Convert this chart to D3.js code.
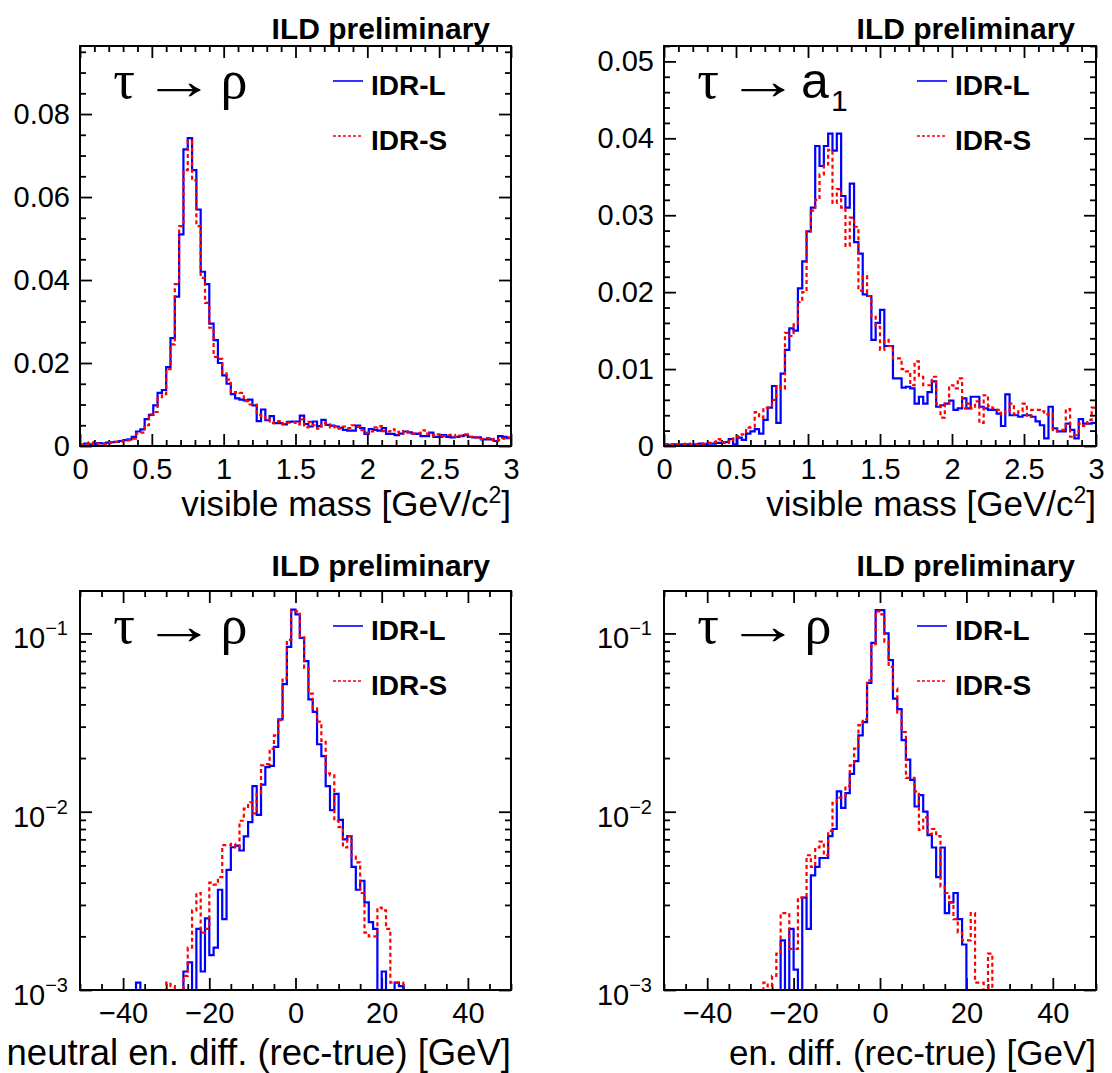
<!DOCTYPE html>
<html>
<head>
<meta charset="utf-8">
<script src="https://cdn.jsdelivr.net/npm/d3@7"></script>
<style>
  body { margin: 0; background: #fff; }
  svg { display: block; }
</style>
</head>
<body>
<svg id="chart" width="1112" height="1073"></svg>
<script>
'use strict';

// ---- data: normalised histograms, 100 bins each ----
// visible mass, tau -> rho, 0..3 GeV/c2
const massRhoL = [
  0.0003,0.0006,0.0004,0.0005,0.0007,0.0006,0.0008,0.0009,0.0010,0.0012,
  0.0014,0.0016,0.0022,0.0035,0.0040,0.0065,0.0075,0.0098,0.0128,0.0135,
  0.0190,0.0260,0.0360,0.0510,0.0715,0.0742,0.0665,0.0570,0.0420,0.0390,
  0.0295,0.0255,0.0200,0.0170,0.0150,0.0125,0.0115,0.0112,0.0110,0.0112,
  0.0098,0.0060,0.0088,0.0062,0.0072,0.0055,0.0055,0.0052,0.0058,0.0059,
  0.0059,0.0073,0.0053,0.0047,0.0059,0.0048,0.0063,0.0051,0.0049,0.0047,
  0.0044,0.0039,0.0037,0.0037,0.0049,0.0043,0.0029,0.0041,0.0039,0.0037,
  0.0043,0.0029,0.0029,0.0026,0.0030,0.0035,0.0033,0.0030,0.0029,0.0024,
  0.0024,0.0032,0.0022,0.0022,0.0026,0.0022,0.0021,0.0022,0.0024,0.0026,
  0.0022,0.0021,0.0021,0.0016,0.0016,0.0016,0.0012,0.0024,0.0022,0.0019];
const massRhoS = [
  0.0004,0.0005,0.0009,0.0004,0.0006,0.0005,0.0007,0.0008,0.0010,0.0011,
  0.0013,0.0014,0.0018,0.0030,0.0032,0.0050,0.0076,0.0082,0.0115,0.0125,
  0.0185,0.0245,0.0390,0.0530,0.0665,0.0735,0.0640,0.0530,0.0405,0.0345,
  0.0285,0.0215,0.0210,0.0175,0.0160,0.0128,0.0130,0.0128,0.0108,0.0100,
  0.0100,0.0075,0.0070,0.0066,0.0055,0.0058,0.0060,0.0053,0.0056,0.0057,
  0.0052,0.0064,0.0045,0.0058,0.0050,0.0042,0.0055,0.0052,0.0045,0.0048,
  0.0042,0.0047,0.0043,0.0050,0.0046,0.0038,0.0032,0.0035,0.0045,0.0048,
  0.0036,0.0035,0.0040,0.0034,0.0030,0.0036,0.0033,0.0030,0.0031,0.0038,
  0.0030,0.0027,0.0025,0.0028,0.0024,0.0026,0.0027,0.0022,0.0025,0.0028,
  0.0022,0.0020,0.0021,0.0017,0.0019,0.0015,0.0017,0.0014,0.0018,0.0021];

// visible mass, tau -> a1, 0..3 GeV/c2
const massA1L = [
  0.0002,0.0001,0.0002,0.0001,0.0002,0.0002,0.0001,0.0002,0.0003,0.0002,
  0.0003,0.0003,0.0004,0.0004,0.0005,0.0009,0.0002,0.0011,0.0008,0.0016,
  0.0019,0.0022,0.0016,0.0034,0.0050,0.0078,0.0030,0.0094,0.0125,0.0153,
  0.0150,0.0205,0.0240,0.0279,0.0310,0.0390,0.0364,0.0390,0.0406,0.0384,
  0.0406,0.0325,0.0310,0.0341,0.0265,0.0250,0.0197,0.0195,0.0138,0.0160,
  0.0177,0.0130,0.0130,0.0088,0.0088,0.0076,0.0077,0.0075,0.0055,0.0064,
  0.0055,0.0070,0.0084,0.0051,0.0053,0.0055,0.0059,0.0047,0.0049,0.0062,
  0.0049,0.0064,0.0064,0.0051,0.0049,0.0047,0.0047,0.0042,0.0026,0.0067,
  0.0040,0.0040,0.0038,0.0040,0.0040,0.0038,0.0032,0.0027,0.0010,0.0051,
  0.0023,0.0019,0.0019,0.0029,0.0021,0.0010,0.0035,0.0029,0.0029,0.0030];
const massA1S = [
  0.0001,0.0002,0.0001,0.0002,0.0002,0.0003,0.0002,0.0002,0.0003,0.0003,
  0.0004,0.0005,0.0009,0.0005,0.0004,0.0006,0.0010,0.0013,0.0015,0.0024,
  0.0025,0.0044,0.0037,0.0050,0.0050,0.0060,0.0078,0.0075,0.0147,0.0143,
  0.0158,0.0187,0.0200,0.0279,0.0306,0.0320,0.0353,0.0366,0.0385,0.0316,
  0.0334,0.0310,0.0260,0.0297,0.0285,0.0202,0.0221,0.0195,0.0168,0.0155,
  0.0125,0.0138,0.0130,0.0114,0.0114,0.0100,0.0097,0.0079,0.0110,0.0090,
  0.0079,0.0079,0.0090,0.0055,0.0037,0.0055,0.0079,0.0075,0.0088,0.0049,
  0.0055,0.0049,0.0058,0.0030,0.0066,0.0052,0.0049,0.0047,0.0041,0.0045,
  0.0055,0.0041,0.0045,0.0055,0.0038,0.0047,0.0047,0.0045,0.0041,0.0042,
  0.0019,0.0021,0.0021,0.0048,0.0012,0.0014,0.0029,0.0026,0.0034,0.0050];

// neutral energy difference (rec-true), tau -> rho, -50..50 GeV
const neutRhoL = [
  0,0,0,0,0,0,0,0,0,0,
  0,0,0,0.0011,0,0,0,0,0,0,
  0,0,0,0,0.00127,0.00143,0,0.0022,0.00127,0.00252,
  0.00157,0.00173,0.00365,0.0025,0.00472,0.00632,0.00646,0.00606,0.00727,0.00875,
  0.0139,0.0096,0.0142,0.0178,0.0181,0.0231,0.033,0.0519,0.0841,0.136,
  0.128,0.0945,0.0699,0.0427,0.0363,0.0239,0.0205,0.0139,0.0102,0.0126,
  0.0090,0.0070,0.0073,0.0049,0.00365,0.0041,0.0031,0.0024,0.0022,0,
  0.00127,0,0,0.0011,0.00105,0,0,0,0,0,
  0,0,0,0,0,0,0,0,0,0,
  0,0,0,0,0,0,0,0,0,0];
const neutRhoS = [
  0,0,0,0,0,0,0,0,0,0,
  0,0,0,0,0,0,0,0,0,0,
  0.0011,0.00105,0,0,0.0012,0.00173,0.0028,0.0035,0.0021,0.0022,
  0.0040,0.0039,0.0043,0.0065,0.0065,0.0066,0.0063,0.0089,0.0104,0.0113,
  0.0098,0.0126,0.0182,0.0185,0.0226,0.0268,0.0326,0.056,0.092,0.134,
  0.133,0.095,0.064,0.046,0.038,0.032,0.025,0.0164,0.016,0.0089,
  0.0082,0.0063,0.0073,0.0056,0.0052,0.0035,0.0021,0.0020,0.0020,0.0029,
  0.0028,0.0022,0.0011,0.0011,0.0011,0,0,0,0,0,
  0,0,0,0,0,0,0,0,0,0,
  0,0,0,0,0,0,0,0,0,0];

// total energy difference (rec-true), tau -> rho, -50..50 GeV
const enRhoL = [
  0,0,0,0,0,0,0,0,0,0,
  0,0,0,0,0,0,0,0,0,0,
  0,0,0,0,0,0,0,0.0019,0,0.0022,
  0.0013,0,0.0033,0.0022,0.0044,0.0049,0.0055,0.0055,0.0073,0.0080,
  0.0130,0.0105,0.0127,0.0163,0.0192,0.0268,0.0318,0.0528,0.0885,0.135,
  0.135,0.100,0.0708,0.0431,0.0376,0.0252,0.0196,0.0151,0.0107,0.0124,
  0.0100,0.0074,0.0063,0.0043,0.0063,0.0027,0.0031,0.0035,0.0025,0.0018,
  0,0,0,0,0,0,0,0,0,0,
  0,0,0,0,0,0,0,0,0,0,
  0,0,0,0,0,0,0,0,0,0];
const enRhoS = [
  0,0,0,0,0,0,0,0,0,0,
  0,0,0,0,0,0,0,0,0,0,
  0,0,0,0.0011,0,0.0012,0.0016,0.0027,0.0027,0.0017,
  0.0017,0.0033,0.0033,0.0057,0.0049,0.0063,0.0068,0.0057,0.0078,0.0112,
  0.0120,0.0120,0.0139,0.0182,0.0226,0.0306,0.033,0.0545,0.087,0.133,
  0.128,0.090,0.065,0.049,0.036,0.028,0.0155,0.0155,0.0130,0.0079,
  0.0093,0.0075,0.0080,0.0073,0.0038,0.0035,0.0031,0.0025,0.0021,0.0019,
  0.0019,0.0027,0.0011,0.0011,0,0.0016,0,0,0,0,
  0,0,0,0,0,0,0,0,0,0,
  0,0,0,0,0,0,0,0,0,0];

// axis ranges and tick labels
const massRange = [0, 3];
const diffRange = [-50, 50];
const massTicks = [0, 0.5, 1, 1.5, 2, 2.5, 3];
const diffTicks = [-40, -20, 0, 20, 40];
const rhoYTicks = [0, 0.02, 0.04, 0.06, 0.08];
const a1YTicks = [0, 0.01, 0.02, 0.03, 0.04, 0.05];
const logYTicks = [0.001, 0.01, 0.1];
const seriesNames = ["IDR-L", "IDR-S"];

const FONT = '"Liberation Sans", Arial, Helvetica, sans-serif';
const SYM = '"Liberation Serif", "DejaVu Serif", serif';
const svg = d3.select("#chart");

const panels = [
  {id: "a", L: massRhoL, S: massRhoS, xr: massRange, xt: massTicks, xm: 0.1,
   box: {x0: 80, x1: 511, y0: 46, y1: 446}, log: false, yd: [0, 0.0964],
   yt: rhoYTicks, ym: 0.005, decay: "rho", ild: 39, titleY: 516, titleSize: 35,
   title: ["visible mass [GeV/c", "2", "]"]},
  {id: "b", L: massA1L, S: massA1S, xr: massRange, xt: massTicks, xm: 0.1,
   box: {x0: 664, x1: 1096, y0: 46, y1: 446}, log: false, yd: [0, 0.052],
   yt: a1YTicks, ym: 0.002, decay: "a1", ild: 39, titleY: 516, titleSize: 35,
   title: ["visible mass [GeV/c", "2", "]"]},
  {id: "c", L: neutRhoL, S: neutRhoS, xr: diffRange, xt: diffTicks, xm: 5,
   box: {x0: 80, x1: 511, y0: 591, y1: 990}, log: true, yd: [0.001, 0.173],
   yt: logYTicks, decay: "rho", ild: 576, titleY: 1065, titleSize: 36.5,
   title: ["neutral en. diff. (rec-true) [GeV]"]},
  {id: "d", L: enRhoL, S: enRhoS, xr: diffRange, xt: diffTicks, xm: 5,
   box: {x0: 664, x1: 1096, y0: 591, y1: 990}, log: true, yd: [0.001, 0.173],
   yt: logYTicks, decay: "rho", ild: 576, titleY: 1065, titleSize: 35,
   title: ["en. diff. (rec-true) [GeV]"]}
];

function histPoints(vals, range) {
  const w = (range[1] - range[0]) / vals.length;
  const pts = [];
  vals.forEach((v, i) => {
    pts.push([range[0] + i * w, v], [range[0] + (i + 1) * w, v]);
  });
  return pts;
}

function fmtLin(d) { return d === 0 ? "0" : d3.format(".2f")(d); }

function drawPanel(p) {
  const b = p.box;
  const g = svg.append("g").attr("class", "panel-" + p.id);
  const x = d3.scaleLinear().domain(p.xr).range([b.x0, b.x1]);
  const y = (p.log ? d3.scaleLog() : d3.scaleLinear()).domain(p.yd).range([b.y1, b.y0]);

  // minor tick values
  const eps = 1e-9;
  const xMinor = d3.range(p.xr[0], p.xr[1] + eps, p.xm).filter(v => !p.xt.some(t => Math.abs(t - v) < eps));
  let yMinor;
  if (p.log) {
    yMinor = [];
    [0.001, 0.01, 0.1].forEach(dec => {
      for (let k = 2; k <= 9; k++) if (k * dec <= p.yd[1]) yMinor.push(k * dec);
    });
  } else {
    yMinor = d3.range(0, p.yd[1] + eps, p.ym).filter(v => !p.yt.some(t => Math.abs(t - v) < eps));
  }

  const addAxis = (axis, tx, ty) => {
    const a = g.append("g").attr("transform", `translate(${tx},${ty})`).call(axis);
    a.select(".domain").remove();
    a.selectAll(".tick line").attr("stroke", "#000").attr("stroke-width", 1.8);
    a.selectAll(".tick text").attr("font-size", 29).attr("font-family", FONT).attr("fill", "#000");
    return a;
  };

  // x axis: bottom (labelled) and top
  addAxis(d3.axisBottom(x).tickValues(p.xt).tickSize(-12).tickPadding(12)
    .tickFormat(p.log ? d3.format("") : d => String(d)), 0, b.y1);
  addAxis(d3.axisBottom(x).tickValues(xMinor).tickSize(-6).tickFormat(""), 0, b.y1);
  addAxis(d3.axisTop(x).tickValues(p.xt).tickSize(-12).tickFormat(""), 0, b.y0);
  addAxis(d3.axisTop(x).tickValues(xMinor).tickSize(-6).tickFormat(""), 0, b.y0);

  // y axis: left (labelled) and right
  addAxis(d3.axisLeft(y).tickValues(p.yt).tickSize(-12).tickPadding(10)
    .tickFormat(p.log ? "" : fmtLin), b.x0, 0);
  addAxis(d3.axisLeft(y).tickValues(yMinor).tickSize(-6).tickFormat(""), b.x0, 0);
  addAxis(d3.axisRight(y).tickValues(p.yt).tickSize(-12).tickFormat(""), b.x1, 0);
  addAxis(d3.axisRight(y).tickValues(yMinor).tickSize(-6).tickFormat(""), b.x1, 0);

  if (p.log) {
    // 10^n labels
    p.yt.forEach(v => {
      const t = g.append("text")
        .attr("x", b.x0 - 12).attr("y", y(v) + 15)
        .attr("text-anchor", "end").attr("font-family", FONT).attr("font-size", 29);
      t.append("tspan").text("10");
      t.append("tspan").attr("dy", -13).attr("font-size", 20)
        .text("\u2212" + Math.round(-Math.log10(v)));
    });
  }

  // histograms
  const clipId = "clip-" + p.id;
  svg.append("clipPath").attr("id", clipId).append("rect")
    .attr("x", b.x0).attr("y", b.y0).attr("width", b.x1 - b.x0).attr("height", b.y1 - b.y0);
  const line = d3.line().x(d => x(d[0])).y(d => y(Math.max(d[1], p.yd[0])));
  const hg = g.append("g").attr("clip-path", `url(#${clipId})`);
  hg.append("path").attr("d", line(histPoints(p.L, p.xr)))
    .attr("fill", "none").attr("stroke", "#0000ff").attr("stroke-width", 2.2);
  hg.append("path").attr("d", line(histPoints(p.S, p.xr)))
    .attr("fill", "none").attr("stroke", "#ff0000").attr("stroke-width", 2.2)
    .attr("stroke-dasharray", "4,3");

  // frame
  g.append("rect").attr("x", b.x0).attr("y", b.y0)
    .attr("width", b.x1 - b.x0).attr("height", b.y1 - b.y0)
    .attr("fill", "none").attr("stroke", "#000").attr("stroke-width", 2);

  // "ILD preliminary"
  g.append("text").attr("x", b.x1 - 21).attr("y", p.ild)
    .attr("text-anchor", "end").attr("font-family", FONT)
    .attr("font-weight", "bold").attr("font-size", 30).text("ILD preliminary");

  // axis title
  const tt = g.append("text").attr("x", b.x1).attr("y", p.titleY)
    .attr("text-anchor", "end").attr("font-family", FONT).attr("font-size", p.titleSize);
  tt.append("tspan").text(p.title[0]);
  if (p.title.length > 1) {
    tt.append("tspan").attr("dy", -13).attr("font-size", 23).text(p.title[1]);
    tt.append("tspan").attr("dy", 13).text(p.title[2]);
  }

  // decay label
  const by = b.y0 + 52;
  g.append("text").attr("x", b.x0 + 44).attr("y", by).attr("text-anchor", "middle")
    .attr("font-family", SYM).attr("font-size", 54).text("\u03c4");
  g.append("text").attr("text-anchor", "middle")
    .attr("transform", `translate(${b.x0 + 99},${by + 1}) scale(1.35,1)`)
    .attr("font-family", FONT).attr("font-size", 54).text("\u2192");
  if (p.decay === "rho") {
    g.append("text").attr("x", b.x0 + 154).attr("y", by).attr("text-anchor", "middle")
      .attr("font-family", SYM).attr("font-size", 54).text("\u03c1");
  } else {
    g.append("text").attr("x", b.x0 + 137).attr("y", by).attr("font-family", FONT)
      .attr("font-size", 50).text("a");
    g.append("text").attr("x", b.x0 + 167).attr("y", by + 13).attr("font-family", FONT)
      .attr("font-size", 30).text("1");
  }

  // legend
  const legY = [b.y0 + 35, b.y0 + 90];
  const legC = ["#0000ff", "#ff0000"];
  seriesNames.forEach((name, i) => {
    g.append("line").attr("x1", b.x0 + 253).attr("x2", b.x0 + 283)
      .attr("y1", legY[i]).attr("y2", legY[i])
      .attr("stroke", legC[i]).attr("stroke-width", 1.6)
      .attr("stroke-dasharray", i === 1 ? "3,2" : null);
    g.append("text").attr("x", b.x0 + 291).attr("y", legY[i] + 14)
      .attr("font-family", FONT).attr("font-weight", "bold").attr("font-size", 28)
      .text(name);
  });
}

panels.forEach(drawPanel);
</script>
</body>
</html>
